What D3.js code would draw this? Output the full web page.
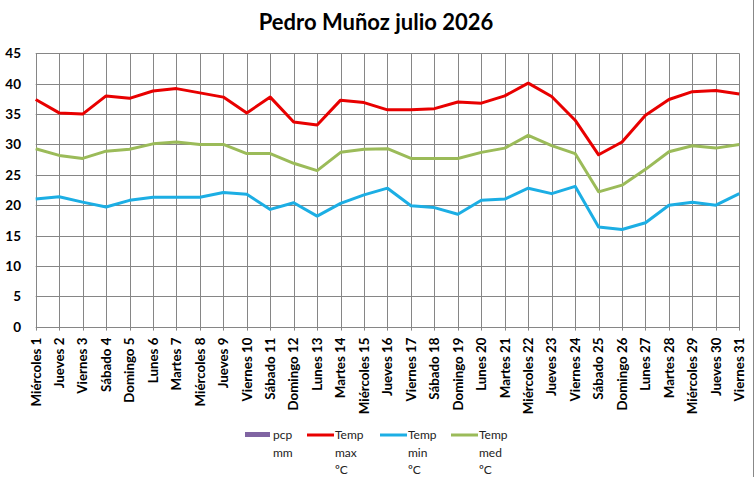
<!DOCTYPE html>
<html><head><meta charset="utf-8">
<script src="https://cdn.jsdelivr.net/npm/d3@7"></script>
<style>body{margin:0;background:#fff}svg{display:block}</style>
</head><body><svg id="c" width="755" height="477"></svg>
<script>
const title = "Pedro Muñoz julio 2026";
const days = ["Miércoles 1","Jueves 2","Viernes 3","Sábado 4","Domingo 5","Lunes 6","Martes 7","Miércoles 8","Jueves 9","Viernes 10","Sábado 11","Domingo 12","Lunes 13","Martes 14","Miércoles 15","Jueves 16","Viernes 17","Sábado 18","Domingo 19","Lunes 20","Martes 21","Miércoles 22","Jueves 23","Viernes 24","Sábado 25","Domingo 26","Lunes 27","Martes 28","Miércoles 29","Jueves 30","Viernes 31"];
const pcp = [0,0,0,0,0,0,0,0,0,0,0,0,0,0,0,0,0,0,0,0,0,0,0,0,0,0,0,0,0,0,0];
const tmax = [37.4,35.2,35.0,38.0,37.6,38.8,39.2,38.5,37.8,35.2,37.8,33.7,33.2,37.3,36.9,35.7,35.7,35.9,37.0,36.8,38.0,40.1,37.9,34.0,28.3,30.4,34.8,37.4,38.7,38.9,38.3];
const tmin = [21.0,21.4,20.5,19.7,20.8,21.3,21.3,21.3,22.1,21.8,19.3,20.4,18.2,20.3,21.7,22.8,19.9,19.6,18.5,20.8,21.0,22.8,21.9,23.1,16.4,16.0,17.1,20.0,20.5,20.0,21.9];
const tmed = [29.3,28.2,27.7,28.9,29.2,30.1,30.4,30.0,30.0,28.5,28.5,26.9,25.7,28.7,29.2,29.3,27.7,27.7,27.7,28.7,29.4,31.5,29.8,28.5,22.2,23.3,25.9,28.8,29.8,29.4,30.0];
const yTicks = [0,5,10,15,20,25,30,35,40,45];
const legendItems = [
  {name:["pcp","mm"], color:"#8064A2", type:"rect"},
  {name:["Temp","max","ºC"], color:"#E80000", type:"line"},
  {name:["Temp","min","ºC"], color:"#1CAEE4", type:"line"},
  {name:["Temp","med","ºC"], color:"#9BBB59", type:"line"}
];

const svg = d3.select("#c");
const font = "Lato, 'Open Sans', sans-serif";
const L = 35.7, R = 739.3, T = 53.4, B = 326.6;
const x = d3.scalePoint().domain(days).range([L, R]);
const y = d3.scaleLinear().domain([0,45]).range([B, T]);

svg.append("line").attr("x1",753.5).attr("x2",753.5).attr("y1",0).attr("y2",477).attr("stroke","#888").attr("stroke-width",1);

svg.append("text").attr("x",376).attr("y",30).attr("text-anchor","middle")
  .attr("font-family",font).attr("font-weight","bold").attr("font-size",22).attr("fill","#000").text(title);

// grid
const g = svg.append("g");
g.selectAll(".h").data(yTicks).join("line")
  .attr("x1",L).attr("x2",R).attr("y1",d=>Math.round(y(d))+0.5).attr("y2",d=>Math.round(y(d))+0.5)
  .attr("stroke","#868686").attr("stroke-width",1);
g.selectAll(".v").data(days).join("line")
  .attr("x1",d=>Math.round(x(d))+0.5).attr("x2",d=>Math.round(x(d))+0.5).attr("y1",T).attr("y2",B+4)
  .attr("stroke","#868686").attr("stroke-width",1);

// y labels
svg.append("g").selectAll("text").data(yTicks).join("text")
  .attr("x",21).attr("y",d=>y(d)+5).attr("text-anchor","end")
  .attr("font-family",font).attr("font-weight","bold").attr("font-size",13.5).attr("fill","#000").text(d=>d);

// x labels
svg.append("g").selectAll("text").data(days).join("text")
  .attr("transform",d=>`translate(${x(d)+4.8},${B+11}) rotate(-90)`)
  .attr("text-anchor","end")
  .attr("font-family",font).attr("font-weight","bold").attr("font-size",13.3).attr("fill","#000").text(d=>d);

// pcp bars (zero)
const bw = 14;
svg.append("g").selectAll("rect").data(pcp).join("rect")
  .attr("x",(d,i)=>x(days[i])-bw/2).attr("width",bw)
  .attr("y",d=>y(d)).attr("height",d=>B-y(d)).attr("fill","#8064A2");

const line = d3.line().x((d,i)=>x(days[i])).y(d=>y(d));
[[tmax,"#E80000"],[tmin,"#1CAEE4"],[tmed,"#9BBB59"]].forEach(([data,col])=>{
  svg.append("path").datum(data).attr("d",line).attr("fill","none")
    .attr("stroke",col).attr("stroke-width",3).attr("stroke-linejoin","round");
});

// legend
const lx = [245, 307, 380, 451];
const lg = svg.append("g");
legendItems.forEach((it,i)=>{
  const x0 = lx[i];
  if(it.type==="rect"){
    lg.append("rect").attr("x",x0).attr("y",432).attr("width",25).attr("height",5).attr("fill",it.color);
  } else {
    lg.append("line").attr("x1",x0).attr("x2",x0+27).attr("y1",435).attr("y2",435).attr("stroke",it.color).attr("stroke-width",3);
  }
  const tx = x0+28;
  it.name.forEach((s,j)=>{
    lg.append("text").attr("x",tx).attr("y",439+j*17.5)
      .attr("font-family",font).attr("font-size",12).attr("fill","#222").text(s);
  });
});
</script></body></html>
